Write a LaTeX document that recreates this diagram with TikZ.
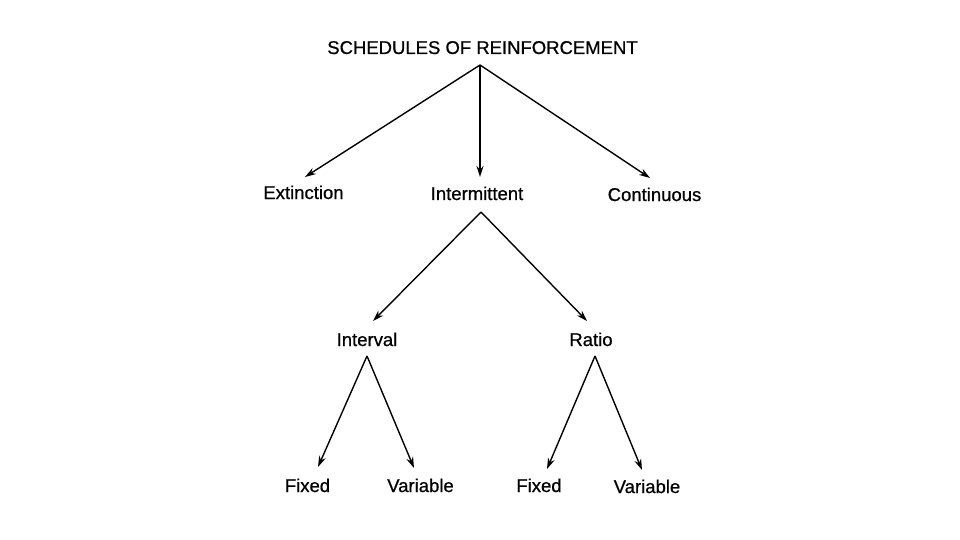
\documentclass[tikz,border=0pt]{standalone}
\usepackage{fontspec}
\setmainfont{Liberation Sans}
\newfontfamily\heavyfont[FakeBold=0.7]{Liberation Sans}
\usetikzlibrary{arrows.meta}
\begin{document}
\begin{tikzpicture}[x=1pt,y=-1pt,
  lbl/.style={anchor=base,inner sep=0pt,font=\heavyfont\fontsize{18.5}{20}\selectfont},
  arr/.style={line width=1.4pt,-{Stealth[length=11pt,width=7pt]}}]
\useasboundingbox[fill=white] (0,0) rectangle (960,540);
\node[lbl] (title) at (482.5,54) {SCHEDULES OF REINFORCEMENT};
\node[lbl] (ext) at (303.5,199) {Extinction};
\node[lbl] (inter) at (477,200) {Intermittent};
\node[lbl] (cont) at (654.5,201) {Continuous};
\node[lbl] (interval) at (367,346) {Interval};
\node[lbl] (ratio) at (591,346) {Ratio};
\node[lbl] (fixA) at (307.5,492) {Fixed};
\node[lbl] (varA) at (420.5,492) {Variable};
\node[lbl] (fixB) at (539,492) {Fixed};
\node[lbl] (varB) at (647,493) {Variable};
\draw[arr] ([shift={(-2.5,11)}]title.base) -- ([shift={(1.5,-22)}]ext.base);
\draw[arr] ([shift={(-2.5,11)}]title.base) -- ([shift={(3,-23)}]inter.base);
\draw[arr] ([shift={(-2.5,11)}]title.base) -- ([shift={(-4.5,-23)}]cont.base);
\draw[arr] ([shift={(4,12)}]inter.base) -- ([shift={(6,-25)}]interval.base);
\draw[arr] ([shift={(4,12)}]inter.base) -- ([shift={(-4,-25)}]ratio.base);
\draw[arr] ([shift={(0,10)}]interval.base) -- ([shift={(10.5,-25)}]fixA.base);
\draw[arr] ([shift={(0,10)}]interval.base) -- ([shift={(-6.5,-24)}]varA.base);
\draw[arr] ([shift={(4,10)}]ratio.base) -- ([shift={(8,-23)}]fixB.base);
\draw[arr] ([shift={(4,10)}]ratio.base) -- ([shift={(-5,-23)}]varB.base);
\end{tikzpicture}
\end{document}
